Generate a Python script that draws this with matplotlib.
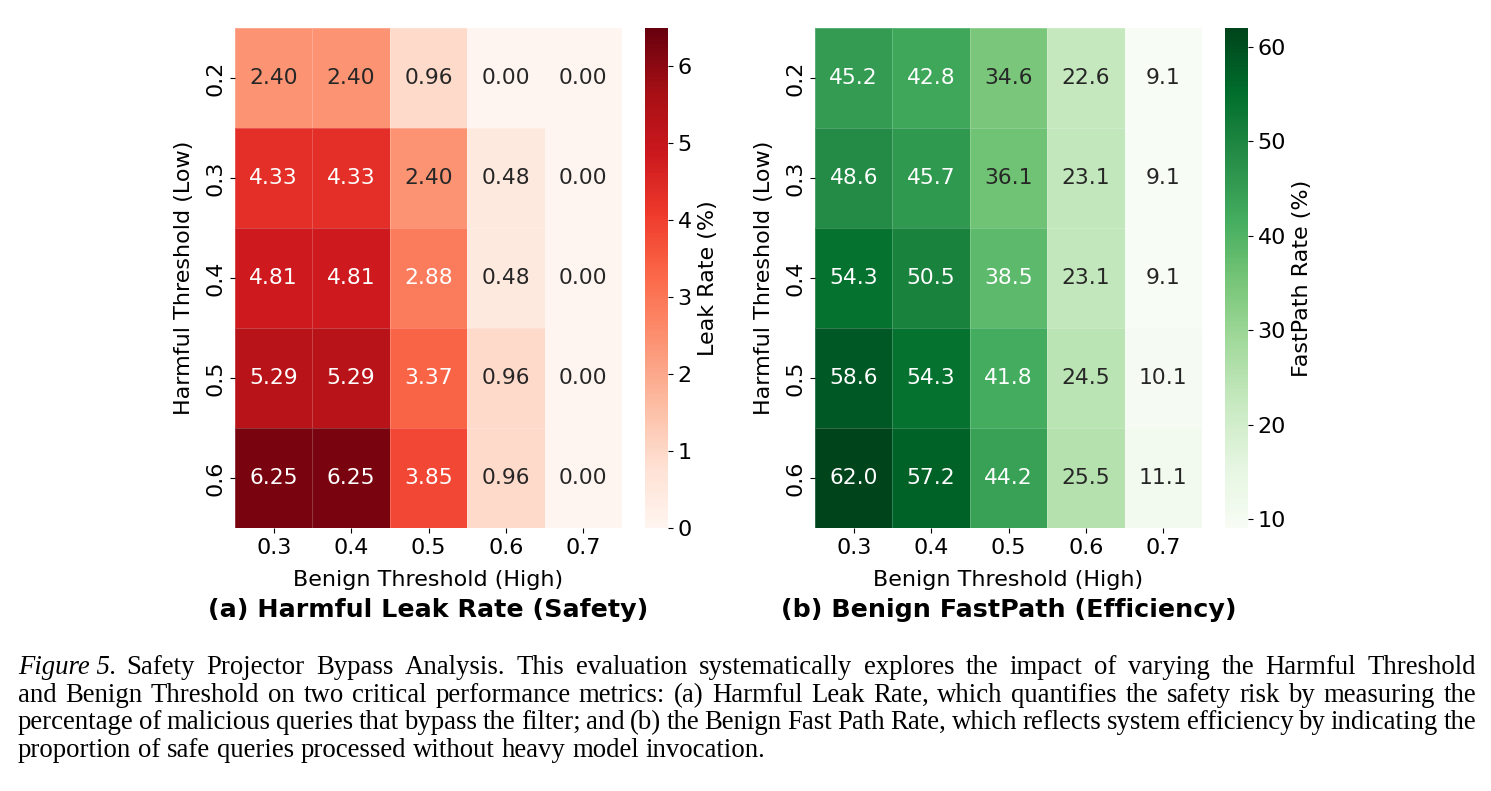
import numpy as np
import pandas as pd
import matplotlib
matplotlib.use("Agg")
import matplotlib.pyplot as plt
import seaborn as sns

harmful_thr = ["0.2", "0.3", "0.4", "0.5", "0.6"]
benign_thr = ["0.3", "0.4", "0.5", "0.6", "0.7"]

leak_rate = [
    [2.40, 2.40, 0.96, 0.00, 0.00],
    [4.33, 4.33, 2.40, 0.48, 0.00],
    [4.81, 4.81, 2.88, 0.48, 0.00],
    [5.29, 5.29, 3.37, 0.96, 0.00],
    [6.25, 6.25, 3.85, 0.96, 0.00],
]
fastpath_rate = [
    [45.2, 42.8, 34.6, 22.6, 9.1],
    [48.6, 45.7, 36.1, 23.1, 9.1],
    [54.3, 50.5, 38.5, 23.1, 9.1],
    [58.6, 54.3, 41.8, 24.5, 10.1],
    [62.0, 57.2, 44.2, 25.5, 11.1],
]

caption_lines = [
    "Safety Projector Bypass Analysis.  This evaluation systematically explores the impact of varying the Harmful Threshold",
    "and Benign Threshold on two critical performance metrics: (a) Harmful Leak Rate, which quantifies the safety risk by measuring the",
    "percentage of malicious queries that bypass the filter; and (b) the Benign Fast Path Rate, which reflects system efficiency by indicating the",
    "proportion of safe queries processed without heavy model invocation.",
]

FS = 16
W, H = 1491, 791
fig = plt.figure(figsize=(W / 100, H / 100), dpi=100)

def box(x0, y0, x1, y1):
    return [x0 / W, 1 - y1 / H, (x1 - x0) / W, (y1 - y0) / H]

panels = [
    (leak_rate, "Reds", ".2f", "Leak Rate (%)", "(a) Harmful Leak Rate (Safety)", 235, 645, 0, 6.5),
    (fastpath_rate, "Greens", ".1f", "FastPath Rate (%)", "(b) Benign FastPath (Efficiency)", 815, 1225, None, None),
]

for data, cmap, fmt, cbl, title, x0, cx0, vmin, vmax in panels:
    df = pd.DataFrame(data, index=harmful_thr, columns=benign_thr)
    ax = fig.add_axes(box(x0, 28, x0 + 387, 528))
    cax = fig.add_axes(box(cx0, 28, cx0 + 23, 528))
    sns.heatmap(df, ax=ax, cbar_ax=cax, cmap=cmap, annot=True, fmt=fmt,
                vmin=vmin, vmax=vmax, linewidths=0.5, linecolor=(1, 1, 1, 0.2),
                annot_kws={"fontsize": 15.7})
    ax.tick_params(labelsize=FS)
    ax.set_yticklabels(harmful_thr, rotation=90, va="center")
    ax.set_xticklabels(benign_thr, rotation=0)
    ax.set_xlabel("Benign Threshold (High)", fontsize=FS, labelpad=9)
    ax.set_ylabel("Harmful Threshold (Low)", fontsize=FS, labelpad=8)
    cax.tick_params(labelsize=FS)
    cax.set_ylabel(cbl, fontsize=FS)
    ax.text(0.5, -0.164, title, transform=ax.transAxes, ha="center", va="center",
            fontsize=18.3, fontweight="bold")

# caption, justified by hand
fig.canvas.draw()
r = fig.canvas.get_renderer()
left, right = 18, 1476
y = 674
serif = "Liberation Serif"
cfs = 19.3

def width_of(t, style="normal"):
    tt = fig.text(0, 0, t, fontsize=cfs, family=serif, style=style)
    w = tt.get_window_extent(r).width
    tt.remove()
    return w

for i, line in enumerate(caption_lines):
    words = line.split(" ")
    x_start = left
    if i == 0:
        fig.text(left / W, 1 - y / H, "Figure 5.", fontsize=cfs, family=serif,
                 style="italic", va="baseline")
        x_start = left + width_of("Figure 5.", "italic") + 10
    words = [w for w in words if w != ""]
    widths = [width_of(w) for w in words]
    if i < len(caption_lines) - 1:
        gap = (right - x_start - sum(widths)) / (len(words) - 1)
    else:
        gap = width_of("a b") - width_of("ab")
    x = x_start
    for w, wd in zip(words, widths):
        fig.text(x / W, 1 - y / H, w, fontsize=cfs, family=serif, va="baseline")
        x += wd + gap
    y += 27.7

fig.savefig("out.png", dpi=100)
